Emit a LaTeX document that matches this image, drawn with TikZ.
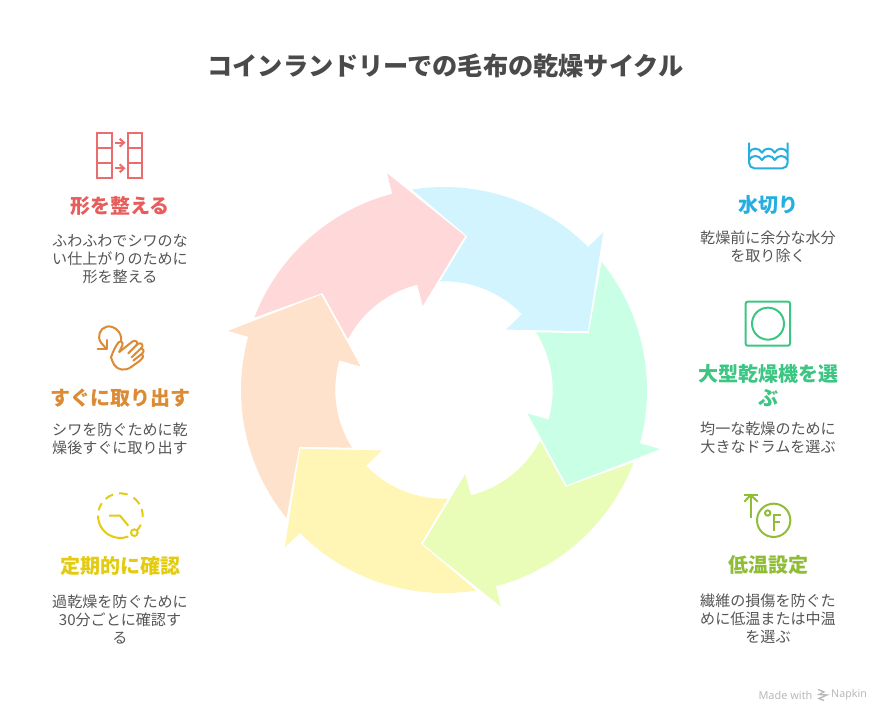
\documentclass[tikz,border=0pt]{standalone}
\usepackage{fontspec}
\setmainfont{Noto Sans CJK JP}
\newfontfamily\napkinfont{Noto Sans}

\definecolor{ringblue}{HTML}{D1F4FF}
\definecolor{ringgreen}{HTML}{C9FFE5}
\definecolor{ringlime}{HTML}{E9FDB9}
\definecolor{ringyellow}{HTML}{FFF6B6}
\definecolor{ringorange}{HTML}{FFE2CC}
\definecolor{ringpink}{HTML}{FFD9D9}
\definecolor{iconpink}{HTML}{E85C5C}
\definecolor{iconorange}{HTML}{DC8A33}
\definecolor{iconyellow}{HTML}{E3CB10}
\definecolor{iconblue}{HTML}{27AEDF}
\definecolor{icongreen}{HTML}{3CC583}
\definecolor{iconlime}{HTML}{8FBD35}
\definecolor{inktext}{HTML}{4A4A4A}
\definecolor{bodyink}{HTML}{555555}

\tikzset{
	headtext/.style={inner sep=0pt, align=center, font=\fontsize{15}{18}\selectfont\bfseries},
	bodytext/.style={inner sep=0pt, align=center, text=bodyink, font=\fontsize{11.3}{13.5}\selectfont},
	zoomed/.style={x=0.25pt, y=-0.25pt, line width=1.5pt}
}

% one arrow of the ring, turned around the centre
\newcommand{\ringarrow}[2]{
	\begin{scope}[shift={(444,330)}, rotate=#1]
		\fill [#2] (159.1:203) arc [start angle=159.1, end angle=104.8, radius=203]
			-- (104.7:224) -- (82.2:155.4) -- (104.2:86.7) -- (104.3:108.7)
			arc [start angle=104.3, end angle=152.1, radius=108.7]
			-- (141.4:155.4) -- cycle;
	\end{scope}
}

\begin{document}
\begin{tikzpicture}[x=0.75pt, y=0.75pt]
		\useasboundingbox (0,0) rectangle (888,720);

		\node (title) at (445.5,654) [inner sep=0pt, text=inktext, font=\fontsize{18.9}{22}\selectfont\bfseries] {コインランドリーでの毛布の乾燥サイクル};

		% draw the ring
		\ringarrow{0}{ringpink}
		\ringarrow{-60}{ringblue}
		\ringarrow{-120}{ringgreen}
		\ringarrow{180}{ringlime}
		\ringarrow{120}{ringyellow}
		\ringarrow{60}{ringorange}

		% left column
		\node (head1) at (120,514) [headtext, text=iconpink] {形を整える};
		\node (text1) at (120,461) [bodytext] {ふわふわでシワのな\\い仕上がりのために\\形を整える};

		\node (head2) at (120,322) [headtext, text=iconorange] {すぐに取り出す};
		\node (text2) at (120,281.5) [bodytext] {シワを防ぐために乾\\燥後すぐに取り出す};

		\node (head3) at (120,154) [headtext, text=iconyellow] {定期的に確認};
		\node (text3) at (120,101) [bodytext] {過乾燥を防ぐために\\30分ごとに確認す\\る};

		% right column
		\node (head4) at (768,515) [headtext, text=iconblue] {水切り};
		\node (text4) at (768,473) [bodytext] {乾燥前に余分な水分\\を取り除く};

		\node (head5) at (768,334) [headtext, text=icongreen] {大型乾燥機を選\\ぶ};
		\node (text5) at (768,282) [bodytext] {均一な乾燥のために\\大きなドラムを選ぶ};

		\node (head6) at (768,155) [headtext, text=iconlime] {低温設定};
		\node (text6) at (768,101) [bodytext] {繊維の損傷を防ぐた\\めに低温または中温\\を選ぶ};

		% draw the icons
		\begin{scope}[shift={(85,595)}, zoomed, draw=iconpink!90]
			\draw (37,24) rectangle (80,160);
			\draw (37,68) -- (80,68);
			\draw (37,114) -- (80,114);
			\draw (130,24) rectangle (172,160);
			\draw (130,68) -- (172,68);
			\draw (130,114) -- (172,114);
			\draw (90,53) -- (117,53);
			\draw (104,41) -- (117,53) -- (104,65);
			\draw (90,130) -- (117,130);
			\draw (104,118) -- (117,130) -- (104,142);
		\end{scope}

		\begin{scope}[shift={(85,400)}, zoomed, draw=iconorange, line join=round, line cap=round]
			\draw (108,62) .. controls (112,35) and (85,15) .. (65,20) .. controls (45,24) and (35,50) .. (48,68) -- (62,84);
			\draw (38,87) -- (65,87) -- (65,60);
			% the hand
			\draw (78,112) .. controls (85,92) and (92,78) .. (100,68) .. controls (106,60) and (116,66) .. (112,76) -- (103,96);
			\draw (103,96) -- (143,64) .. controls (152,58) and (162,68) .. (154,76) -- (130,100);
			\draw (154,76) -- (160,71) .. controls (170,66) and (178,78) .. (168,85) -- (140,112);
			\draw (168,85) .. controls (178,88) and (178,96) .. (170,102) -- (145,122);
			\draw (170,102) .. controls (178,108) and (172,118) .. (165,122) -- (140,140) .. controls (120,155) and (98,150) .. (88,135) .. controls (84,128) and (80,120) .. (78,112);
		\end{scope}

		\begin{scope}[shift={(85,235)}, zoomed, draw=iconyellow]
			\draw ({106+67*cos(180)},{92+67*sin(180)}) arc [start angle=180, end angle=69, radius=67];
			\foreach \a/\b in {3/-17, -31/-54, -71/-93, -109/-131, -146.5/-166, 24/45}
				\draw ({106+67*cos(\a)},{92+67*sin(\a)}) arc [start angle=\a, end angle=\b, radius=67];
			\draw (148,143) circle (10);
			\draw (72,92) -- (105,92) -- (130,122);
		\end{scope}

		\begin{scope}[shift={(735,590)}, zoomed, draw=iconblue, line join=round]
			\draw (42,38) -- (42,98) to [out=-90, in=180] (58,115) -- (142,115) to [out=0, in=-90] (158,98) -- (158,38);
			\foreach \y in {68,90}
				\draw (42,\y) .. controls (50,\y-16) and (72,\y-16) .. (81,\y) .. controls (88,\y-16) and (112,\y-16) .. (119,\y) .. controls (128,\y-16) and (150,\y-16) .. (158,\y);
		\end{scope}

		\begin{scope}[shift={(735,425)}, zoomed, draw=icongreen]
			\draw [rounded corners=1.5pt] (32,20) rectangle (165,152);
			\draw (99,86) circle (48);
		\end{scope}

		\begin{scope}[shift={(735,235)}, zoomed, draw=iconlime]
			\draw (28,30) -- (68,30);
			\draw (47,30) -- (47,100);
			\draw (28,50) -- (47,30) -- (68,50);
			\draw (116,106) circle (50);
			\draw (98,84) circle (8);
			\draw (118,138) -- (118,90) -- (138,90);
			\draw (118,112) -- (135,112);
		\end{scope}

		% the small print
		\node (madewith) at (785.5,25) [inner sep=0pt, text=black!28, font=\napkinfont\fontsize{8.2}{10}\selectfont] {Made with};
		\node (napkin) at (849,25) [inner sep=0pt, text=black!28, font=\napkinfont\fontsize{8}{10}\selectfont] {Napkin};
		\draw [black!28, line width=1pt] (818,30.5) -- (824,28) -- (819,25.5) -- (827,25) -- (819,21.5) -- (824,19.5);
		\end{tikzpicture}
\end{document}
